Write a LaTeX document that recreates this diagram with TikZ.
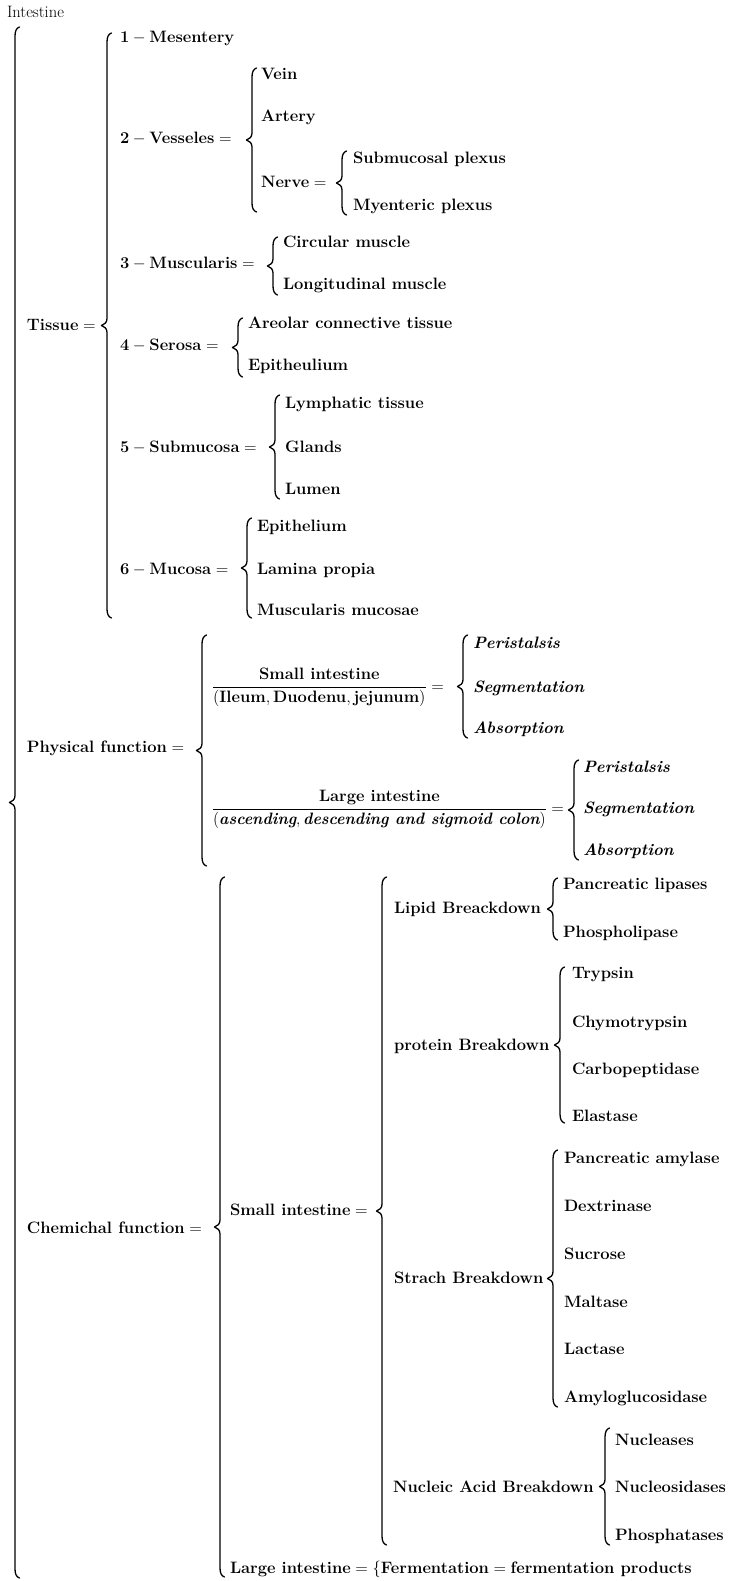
\documentclass[tikz,border=0pt]{standalone}
\usepackage{fix-cm}
\usepackage{amsmath}
\usepackage{graphicx}
\usepackage{fontspec}

% Tall curly brace: vertical stem at x, from ytop to ybot, tip at the middle
\newcommand\curlybrace[3]{%
  \pgfmathsetmacro\bm{(#2+#3)/2}%
  \draw[bracepath] ({#1+4.5},#2) .. controls ({#1+1.5},{#2+1}) and (#1,{#2+4}) .. (#1,{#2+9})
    -- (#1,{\bm-7}) .. controls (#1,{\bm-3}) and ({#1-2.5},{\bm-1}) .. ({#1-5.5},\bm)
    .. controls ({#1-2.5},{\bm+1}) and (#1,{\bm+3}) .. (#1,{\bm+7})
    -- (#1,{#3-9}) .. controls (#1,{#3-4}) and ({#1+1.5},{#3-1}) .. ({#1+4.5},#3);}

\tikzset{
  lbl/.style={anchor=base west, inner sep=0pt, outer sep=0pt,
    font=\fontsize{16.5}{20}\selectfont\bfseries},
  ilbl/.style={lbl, font=\fontsize{16.5}{20}\selectfont\bfseries\itshape},
  bracepath/.style={line width=1.3pt, line cap=round, line join=round}
}

\begin{document}
\begin{tikzpicture}[x=1pt, y=-1pt]
\useasboundingbox (0,0) rectangle (733,1581);

% ---- title and first level ----
\node[lbl, font=\fontsize{16.5}{20}\selectfont] (intest) at (7,18) {Intestine};
\curlybrace{15}{27}{1578}
\node[lbl] (tissue) at (27,330) {$\text{Tissue} =$};
\node[lbl] (phys) at (27,752) {$\text{Physical function} =$};
\node[lbl] (chem) at (27,1233) {$\text{Chemichal function} =$};

% ---- tissue ----
\curlybrace{107}{33}{618}
\node[lbl] (t1) at (120,43) {$\text{1} - \text{Mesentery}$};
\node[lbl] (t2) at (120,144) {$\text{2} - \text{Vesseles} =$};
\curlybrace{252}{68}{212}
\node[lbl] (vein) at (261,80) {Vein};
\node[lbl] (artery) at (261,122) {Artery};
\node[lbl] (nerve) at (261,187) {$\text{Nerve} =$};
\curlybrace{342}{151}{215}
\node[lbl] (subpl) at (353,164) {Submucosal plexus};
\node[lbl] (myent) at (353,210) {Myenteric plexus};

\node[lbl] (t3) at (120,268) {$\text{3} - \text{Muscularis} =$};
\curlybrace{273}{237}{295}
\node[lbl] (circ) at (283,247) {Circular muscle};
\node[lbl] (longi) at (283,289) {Longitudinal muscle};

\node[lbl] (t4) at (120,350) {$\text{4} - \text{Serosa} =$};
\curlybrace{238}{318}{377}
\node[lbl] (areo) at (248,328) {Areolar connective tissue};
\node[lbl] (epiu) at (248,370) {Epitheulium};

\node[lbl] (t5) at (120,452) {$\text{5} - \text{Submucosa} =$};
\curlybrace{275}{395}{499}
\node[lbl] (lymph) at (285,408) {Lymphatic tissue};
\node[lbl] (glands) at (285,452) {Glands};
\node[lbl] (lumen) at (285,494) {Lumen};

\node[lbl] (t6) at (120,574) {$\text{6} - \text{Mucosa} =$};
\curlybrace{247}{518}{618}
\node[lbl] (epi) at (257,531) {Epithelium};
\node[lbl] (lamina) at (257,574) {Lamina propia};
\node[lbl] (muscm) at (257,615) {Muscularis mucosae};

% ---- physical function ----
\curlybrace{202}{635}{866}
\node[lbl] (fr1) at (212,691)
  {$\dfrac{\text{Small intestine}}{(\text{Ileum}, \text{Duodenu}, \text{jejunum})} =$};
\curlybrace{463}{635}{738}
\node[ilbl] (per1) at (473,648) {Peristalsis};
\node[ilbl] (seg1) at (473,692) {Segmentation};
\node[ilbl] (abs1) at (473,733) {Absorption};

\node[lbl] (fr2) at (212,813)
  {$\dfrac{\text{Large intestine}}{\scalebox{0.96}[1]{$(\text{\itshape ascending}, \text{\itshape descending and sigmoid colon})$}} =$};
\curlybrace{574}{760}{860}
\node[ilbl] (per2) at (583,772) {Peristalsis};
\node[ilbl] (seg2) at (583,813) {Segmentation};
\node[ilbl] (abs2) at (583,855) {Absorption};

% ---- chemical function ----
\curlybrace{220}{877}{1577}
\node[lbl] (small) at (230,1215) {$\text{Small intestine} =$};
\curlybrace{382}{877}{1545}

\node[lbl] (lipid) at (394,913) {Lipid Breackdown};
\curlybrace{553}{878}{940}
\node[lbl] (panlip) at (563,889) {Pancreatic lipases};
\node[lbl] (phosl) at (563,937) {Phospholipase};

\node[lbl] (prot) at (394,1050) {protein Breakdown};
\curlybrace{560}{967}{1123}
\node[lbl] (tryp) at (572,978) {Trypsin};
\node[lbl] (chymo) at (572,1027) {Chymotrypsin};
\node[lbl] (carbo) at (572,1074) {Carbopeptidase};
\node[lbl] (elas) at (572,1121) {Elastase};

\node[lbl] (strach) at (394,1283) {Strach Breakdown};
\curlybrace{553}{1150}{1407}
\node[lbl] (panam) at (564,1163) {Pancreatic amylase};
\node[lbl] (dext) at (564,1211) {Dextrinase};
\node[lbl] (sucr) at (564,1259) {Sucrose};
\node[lbl] (malt) at (564,1307) {Maltase};
\node[lbl] (lact) at (564,1354) {Lactase};
\node[lbl] (amyl) at (564,1402) {Amyloglucosidase};

\node[lbl] (nucl) at (393,1492) {Nucleic Acid Breakdown};
\curlybrace{605}{1428}{1545}
\node[lbl] (nuclease) at (615,1445) {Nucleases};
\node[lbl] (nucleos) at (615,1492) {Nucleosidases};
\node[lbl] (phosph) at (615,1540) {Phosphatases};

\node[lbl] (large) at (230,1573)
  {$\text{Large intestine} = \{\text{Fermentation} = \text{fermentation products}$};
\end{tikzpicture}
\end{document}
